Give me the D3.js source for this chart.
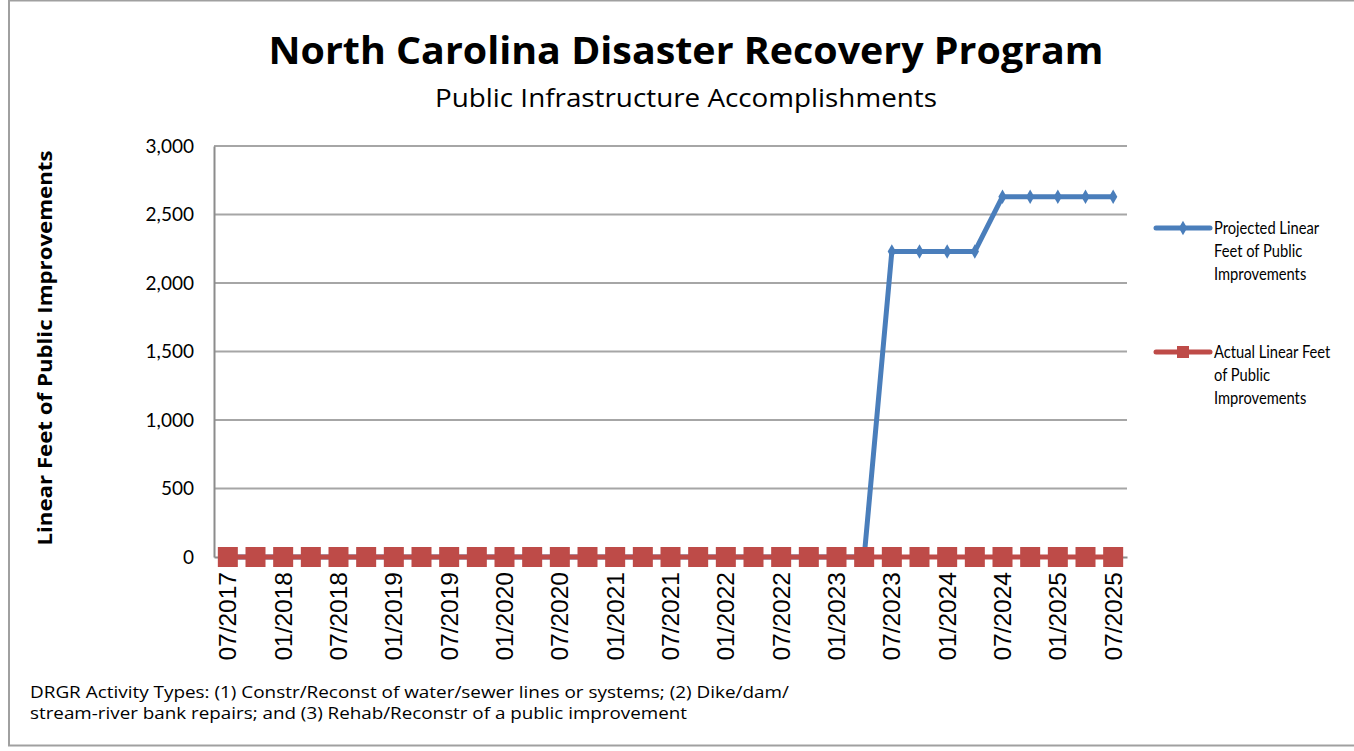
<!DOCTYPE html>
<html lang="en">
<head>
<meta charset="UTF-8">
<title>North Carolina Disaster Recovery Program</title>
<script src="https://d3js.org/d3.v7.min.js"></script>
<style>
    body { margin: 0; padding: 0; background: white; }
    svg { display: block; }
</style>
</head>
<body>
<div id="chart"></div>
<script>
// quarterly periods, 07/2017 .. 07/2025
const periods = [
    '07/2017', '10/2017', '01/2018', '04/2018', '07/2018', '10/2018',
    '01/2019', '04/2019', '07/2019', '10/2019', '01/2020', '04/2020',
    '07/2020', '10/2020', '01/2021', '04/2021', '07/2021', '10/2021',
    '01/2022', '04/2022', '07/2022', '10/2022', '01/2023', '04/2023',
    '07/2023', '10/2023', '01/2024', '04/2024', '07/2024', '10/2024',
    '01/2025', '04/2025', '07/2025'
];
const projected = [
    0, 0, 0, 0, 0, 0, 0, 0, 0, 0, 0, 0, 0, 0, 0, 0, 0, 0, 0, 0, 0, 0, 0, 0,
    2230, 2230, 2230, 2230, 2630, 2630, 2630, 2630, 2630
];
const actual = [
    0, 0, 0, 0, 0, 0, 0, 0, 0, 0, 0, 0, 0, 0, 0, 0, 0, 0, 0, 0, 0, 0, 0, 0,
    0, 0, 0, 0, 0, 0, 0, 0, 0
];
const yTicks = [0, 500, 1000, 1500, 2000, 2500, 3000];

const W = 1354, H = 751;
const plotL = 214, plotR = 1127, plotT = 146, plotB = 557;
const blue = '#4a7ebb', red = '#be4b48';

const svg = d3.select('#chart').append('svg')
    .attr('width', W).attr('height', H);

// outer frame
svg.append('rect')
    .attr('x', 9).attr('y', 0.5).attr('width', 1360).attr('height', 745)
    .attr('fill', 'none').attr('stroke', '#a0a0a0').attr('stroke-width', 2);

const x = d3.scaleBand().domain(periods).range([plotL, plotR]);
const y = d3.scaleLinear().domain([0, 3000]).range([plotB, plotT]);
const cx = d => x(d) + x.bandwidth() / 2;

// gridlines
svg.append('g').selectAll('line')
    .data(yTicks.filter(t => t > 0))
    .join('line')
    .attr('x1', plotL).attr('x2', plotR)
    .attr('y1', d => y(d)).attr('y2', d => y(d))
    .attr('stroke', '#a6a6a6').attr('stroke-width', 2);

// y axis
const yAxis = svg.append('g')
    .attr('transform', `translate(${plotL},0)`)
    .call(d3.axisLeft(y).tickValues(yTicks).tickSize(0).tickPadding(20).tickFormat(d3.format(',')));
yAxis.select('.domain').attr('stroke', '#8c8c8c').attr('stroke-width', 2);
yAxis.selectAll('text')
    .attr('font-family', 'Lato, sans-serif').attr('font-size', 19).attr('fill', '#000');

// x axis
const xAxis = svg.append('g')
    .attr('transform', `translate(0,${plotB})`)
    .call(d3.axisBottom(x).tickValues(periods.filter((p, i) => i % 2 === 0)).tickSize(0).tickPadding(0));
xAxis.select('.domain').attr('stroke', '#8c8c8c').attr('stroke-width', 2);
xAxis.selectAll('text')
    .attr('font-family', 'Liberation Sans, Arial, sans-serif').attr('font-size', 24.5).attr('fill', '#000')
    .attr('text-anchor', 'end')
    .attr('y', 0)
    .attr('dy', '0.35em')
    .attr('transform', 'translate(0,15) rotate(-90)');

// projected line
const line = d3.line().x((d, i) => cx(periods[i])).y(d => y(d));
svg.append('path').datum(projected)
    .attr('d', line).attr('fill', 'none')
    .attr('stroke', blue).attr('stroke-width', 5).attr('stroke-linejoin', 'round');
svg.append('g').selectAll('path')
    .data(projected)
    .join('path')
    .attr('d', d3.symbol(d3.symbolDiamond, 60))
    .attr('transform', (d, i) => `translate(${cx(periods[i])},${y(d)})`)
    .attr('fill', blue);

// actual line
svg.append('path').datum(actual)
    .attr('d', line).attr('fill', 'none')
    .attr('stroke', red).attr('stroke-width', 5);
svg.append('g').selectAll('rect')
    .data(actual)
    .join('rect')
    .attr('x', (d, i) => cx(periods[i]) - 10)
    .attr('y', d => y(d) - 10)
    .attr('width', 20).attr('height', 20)
    .attr('fill', red);

// titles
svg.append('text')
    .attr('x', 686).attr('y', 64).attr('text-anchor', 'middle')
    .attr('font-family', 'Open Sans, sans-serif').attr('font-weight', 'bold').attr('font-size', 37)
    .attr('textLength', 835).attr('lengthAdjust', 'spacingAndGlyphs')
    .text('North Carolina Disaster Recovery Program');
svg.append('text')
    .attr('x', 686).attr('y', 107).attr('text-anchor', 'middle')
    .attr('font-family', 'Open Sans, sans-serif').attr('font-size', 25)
    .attr('textLength', 502).attr('lengthAdjust', 'spacingAndGlyphs')
    .text('Public Infrastructure Accomplishments');

svg.append('text')
    .attr('transform', 'translate(52,348) rotate(-90)')
    .attr('text-anchor', 'middle')
    .attr('font-family', 'Open Sans, sans-serif').attr('font-weight', 'bold').attr('font-size', 20)
    .attr('textLength', 395).attr('lengthAdjust', 'spacingAndGlyphs')
    .text('Linear Feet of Public Improvements');

// legend
const legendRows = [
    { lines: ['Projected Linear', 'Feet of Public', 'Improvements'], y: 228, color: blue, mark: 'diamond' },
    { lines: ['Actual Linear Feet', 'of Public', 'Improvements'], y: 352, color: red, mark: 'square' }
];
const lg = svg.append('g').selectAll('g').data(legendRows).join('g');
lg.append('line')
    .attr('x1', 1156).attr('x2', 1210)
    .attr('y1', d => d.y).attr('y2', d => d.y)
    .attr('stroke', d => d.color).attr('stroke-width', 5).attr('stroke-linecap', 'round');
lg.filter(d => d.mark === 'diamond').append('path')
    .attr('d', d3.symbol(d3.symbolDiamond, 60))
    .attr('transform', d => `translate(1183,${d.y})`)
    .attr('fill', d => d.color);
lg.filter(d => d.mark === 'square').append('rect')
    .attr('x', 1177).attr('y', d => d.y - 6).attr('width', 12).attr('height', 12)
    .attr('fill', d => d.color);
lg.each(function (d) {
    d3.select(this).selectAll('text').data(d.lines).join('text')
        .attr('x', 1214).attr('y', (t, i) => d.y + 6 + i * 23)
        .attr('font-family', 'Lato, sans-serif').attr('font-size', 17.5).attr('fill', '#000')
        .text(t => t)
        .each(function () {
            // squeeze a little to get closer to the narrow original face
            const len = this.getComputedTextLength();
            d3.select(this).attr('textLength', len * 0.84).attr('lengthAdjust', 'spacingAndGlyphs');
        });
});

// footer note
const notes = [
    'DRGR Activity Types: (1) Constr/Reconst of water/sewer lines or systems; (2) Dike/dam/',
    'stream-river bank repairs; and (3) Rehab/Reconstr of a public improvement'
];
const noteLen = [759, 657];
svg.append('g').selectAll('text').data(notes).join('text')
    .attr('x', 30).attr('y', (d, i) => 698 + i * 21)
    .attr('font-family', 'Open Sans, sans-serif').attr('font-size', 16.5)
    .attr('textLength', (d, i) => noteLen[i]).attr('lengthAdjust', 'spacingAndGlyphs')
    .text(d => d);
</script>
</body>
</html>
